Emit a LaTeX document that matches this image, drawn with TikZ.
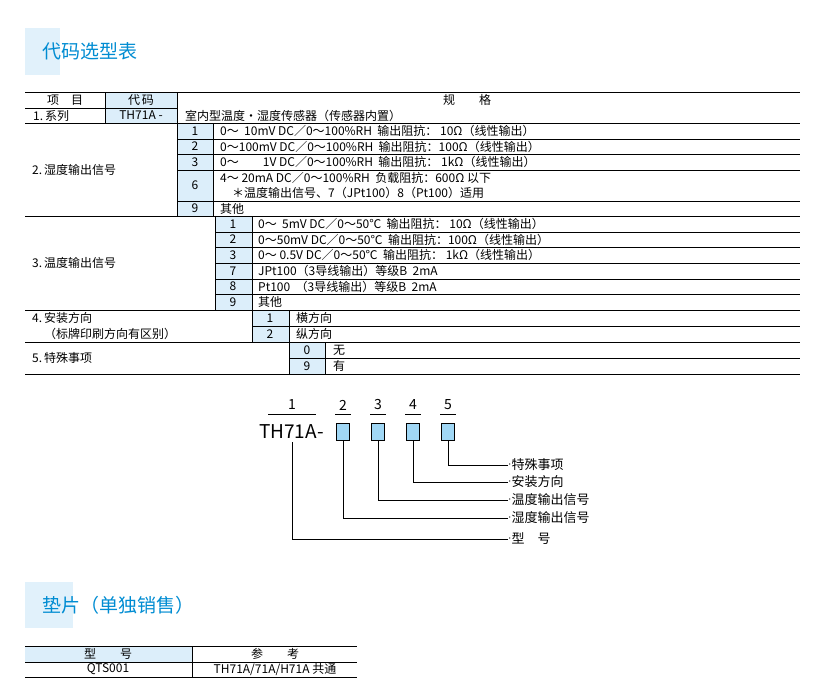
\documentclass[tikz,border=0pt]{standalone}
\usepackage{fontspec}
\setmainfont{Noto Sans CJK SC}
\definecolor{tblue}{RGB}{0,140,210}
\definecolor{cellb}{RGB}{220,238,250}
\definecolor{boxb}{RGB}{160,215,245}
\definecolor{titleb}{RGB}{225,241,251}
\tikzset{
  t/.style={anchor=west,inner sep=0pt,font=\fontsize{12}{13}\selectfont},
  tc/.style={inner sep=0pt,font=\fontsize{12}{13}\selectfont},
  rl/.style={line width=0.7pt},
  ttl/.style={anchor=west,inner sep=0pt,text=tblue,font=\fontsize{19}{21}\selectfont},
  cb/.style={fill=cellb},
  sbox/.style={draw,line width=0.7pt,fill=boxb,minimum width=13pt,minimum height=17pt,inner sep=0pt},
  ld/.style={line width=0.7pt},
  lab/.style={anchor=west,inner sep=0pt,font=\fontsize{13}{14}\selectfont}
}
\begin{document}
\begin{tikzpicture}[x=1pt,y=-1pt]
\useasboundingbox (0,0) rectangle (828,680);
% title 1
\fill[titleb] (25,28) rectangle (60,75);
\node[ttl] (title1) at (42,51) {代码选型表};
% blue cells
\fill[cellb] (105,92) rectangle (177,123);
\fill[cellb] (177,123) rectangle (213,216);
\fill[cellb] (215,216) rectangle (252,310);
\fill[cellb] (252,310) rectangle (289,342);
\fill[cellb] (289,342) rectangle (325,374);
% horizontal lines
\draw[rl] (25,92) -- (800,92);
\draw[rl] (25,108) -- (177,108);
\draw[rl] (25,123) -- (800,123);
\foreach \y in {139,154,170,201} \draw[rl] (177,\y) -- (800,\y);
\draw[rl] (25,216) -- (800,216);
\foreach \y in {232,247,263,279,294} \draw[rl] (215,\y) -- (800,\y);
\draw[rl] (25,310) -- (800,310);
\draw[rl] (252,326) -- (800,326);
\draw[rl] (25,342) -- (800,342);
\draw[rl] (289,358) -- (800,358);
\draw[rl] (25,374) -- (800,374);
% vertical lines
\draw[rl] (105,92) -- (105,123);
\draw[rl] (177,92) -- (177,216);
\draw[rl] (213,123) -- (213,216);
\draw[rl] (215,216) -- (215,310);
\draw[rl] (252,216) -- (252,342);
\draw[rl] (289,310) -- (289,374);
\draw[rl] (325,342) -- (325,374);
% header
\node[tc] (h1) at (65,100) {项\quad 目};
\node[tc] (h2) at (141,100) {代\,码};
\node[tc] (h3) at (467,100) {规\qquad 格};
\node[t] (r1a) at (33,115.5) {1.\,系列};
\node[tc] (r1b) at (141,115.5) {TH71A -};
\node[t] (r1c) at (185,115.5) {室内型温度・湿度传感器（传感器内置）};
% section 2
\node[t] (s2) at (32,170) {2.\,湿度输出信号};
\node[tc] at (195,131) {1};
\node[tc] at (195,146.5) {2};
\node[tc] at (195,162) {3};
\node[tc] at (195,185.5) {6};
\node[tc] at (195,208.5) {9};
\node[t] at (220,131) {0～\ \ 10mV DC／0～100\%RH\ \ 输出阻抗：\ 10Ω（线性输出）};
\node[t] at (220,146.5) {0～100mV DC／0～100\%RH\ \ 输出阻抗：100Ω（线性输出）};
\node[t] at (220,162) {0～\qquad 1V DC／0～100\%RH\ \ 输出阻抗：\ 1kΩ（线性输出）};
\node[t] at (220,178) {4～\ 20mA DC／0～100\%RH\ \ 负载阻抗：600Ω 以下};
\node[t] at (232,193) {＊温度输出信号、7（JPt100）8（Pt100）适用};
\node[t] at (220,208.5) {其他};
% section 3
\node[t] (s3) at (32,263) {3.\,温度输出信号};
\foreach \y/\c in {224/1,239.5/2,255/3,271/7,286.5/8,302/9} \node[tc] at (233,\y) {\c};
\node[t] at (258,224) {0～\ \ 5mV DC／0～50℃\ \ 输出阻抗：\ 10Ω（线性输出）};
\node[t] at (258,239.5) {0～50mV DC／0～50℃\ \ 输出阻抗：100Ω（线性输出）};
\node[t] at (258,255) {0～\ 0.5V DC／0～50℃\ \ 输出阻抗：\ 1kΩ（线性输出）};
\node[t] at (258,271) {JPt100（3导线输出）等级B\ \ 2mA};
\node[t] at (258,286.5) {Pt100\ \ （3导线输出）等级B\ \ 2mA};
\node[t] at (258,302) {其他};
% section 4
\node[t] (s4) at (32,318) {4.\,安装方向};
\node[t] (s4b) at (44,334) {（标牌印刷方向有区别）};
\node[tc] at (270,318) {1};
\node[tc] at (270,334) {2};
\node[t] at (296,318) {横方向};
\node[t] at (296,334) {纵方向};
% section 5
\node[t] (s5) at (32,358) {5.\,特殊事项};
\node[tc] at (307,350) {0};
\node[tc] at (307,366) {9};
\node[t] at (333,350) {无};
\node[t] at (333,366) {有};
% model diagram
\node[anchor=west,inner sep=0pt,font=\fontsize{19}{21}\selectfont] (model) at (259,432) {TH71A-};
\foreach \x/\n in {292/1,343/2,378/3,413/4,448/5} \node[tc,font=\fontsize{14}{15}\selectfont] (n\n) at (\x,405) {\n};
\draw[ld] (268,414) -- (316,414);
\foreach \x in {335,370,405,440} \draw[ld] (\x,414) -- (\x+16,414);
\node[sbox] (b2) at (343,432) {};
\node[sbox] (b3) at (378,432) {};
\node[sbox] (b4) at (413,432) {};
\node[sbox] (b5) at (448,432) {};
\coordinate (c5) at (508,465);
\coordinate (c4) at (508,482);
\coordinate (c3) at (508,500);
\coordinate (c2) at (508,518);
\coordinate (c1) at (508,539);
\coordinate (m1) at (292,442);
\draw[ld] (b5.south) |- (c5);
\draw[ld] (b4.south) |- (c4);
\draw[ld] (b3.south) |- (c3);
\draw[ld] (b2.south) |- (c2);
\draw[ld] (m1) |- (c1);
\node[lab] (l5) at (c5) {\raisebox{2pt}{$\cdot$}特殊事项};
\node[lab] (l4) at (c4) {\raisebox{2pt}{$\cdot$}安装方向};
\node[lab] (l3) at (c3) {\raisebox{2pt}{$\cdot$}温度输出信号};
\node[lab] (l2) at (c2) {\raisebox{2pt}{$\cdot$}湿度输出信号};
\node[lab] (l1) at (c1) {\raisebox{2pt}{$\cdot$}型\quad 号};
% title 2
\fill[titleb] (25,582) rectangle (73,628);
\node[ttl] (title2) at (42,605) {垫片（单独销售）};
\fill[cellb] (25,646) rectangle (192,662);
\draw[rl] (25,646) -- (357,646);
\draw[rl] (25,662) -- (357,662);
\draw[rl] (25,677) -- (357,677);
\draw[rl] (192,646) -- (192,677);
\node[tc] (p1) at (108,654) {型\qquad 号};
\node[tc] (p2) at (275,654) {参\qquad 考};
\node[tc] (p3) at (108,669.5) {QTS001};
\node[tc] (p4) at (275,669.5) {TH71A/71A/H71A 共通};
\end{tikzpicture}
\end{document}
